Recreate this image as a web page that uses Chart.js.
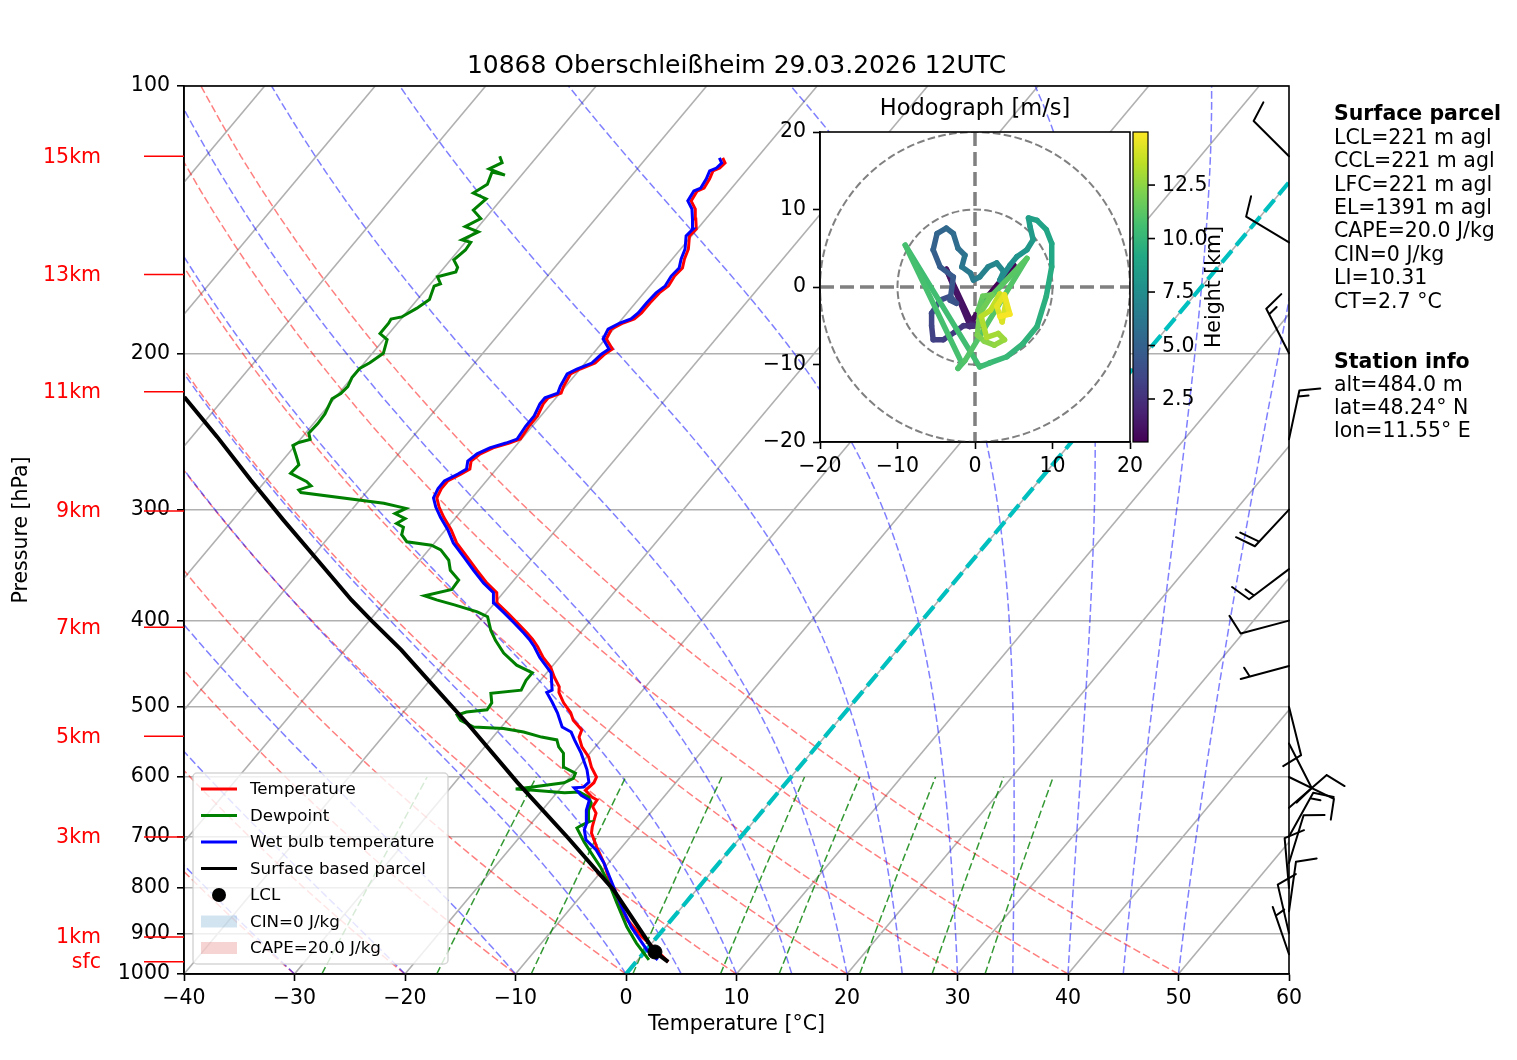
<!DOCTYPE html>
<html>
<head>
<meta charset="utf-8">
<title>Skew-T 10868</title>
<script src="https://cdn.jsdelivr.net/npm/chart.js@4.4.1/dist/chart.umd.min.js"></script>
<style>
  html, body { margin: 0; padding: 0; background: #fff; }
  #wrap { position: relative; width: 1517px; height: 1060px; }
  #skewt { position: absolute; left: 0; top: 0; }
  #hodo { position: absolute; left: 740px; top: 85px; }
</style>
</head>
<body>
<div id="wrap">
  <canvas id="skewt" width="1517" height="1060"></canvas>
  <canvas id="hodo" width="500" height="400"></canvas>
</div>
<script>
Chart.defaults.font.family = "'DejaVu Sans', sans-serif";
Chart.defaults.color = '#000';

// ---- sounding (hPa / degC) ----
const tP = [969, 935, 908, 869, 825, 798, 750, 719, 694, 683, 659, 648, 637, 632, 621, 609, 600, 585, 570, 555,
  541, 531, 518, 508, 495, 482, 475, 463, 451, 440, 428, 420, 413, 402, 392, 382, 372, 363, 351, 339,
  327, 316, 306, 298, 291, 284, 278.5, 273.5, 270, 264.4, 259.6, 255.6, 252.4, 249.8, 241.5, 235.3, 228, 224.5, 221.7, 217.7,
  211, 208.3, 205.1, 200.3, 197.8, 192.7, 187.8, 184.9, 182.9, 180.1, 175.5, 171, 167.9, 163.7, 160.3, 156.6, 152.6, 147.5, 144.9, 141.2,
  137.6, 134.7, 131.3, 130.3, 127.2, 124.6, 123.7, 122.1, 120.5];
const tT = [2.9, 0.6, -1.4, -4.0, -6.4, -7.9, -10.4, -12.3, -13.8, -14.2, -14.9, -15.7, -15.8, -16.5, -17.6, -17.4, -17.6, -18.8, -19.8, -21.2,
  -22.2, -22.5, -24.0, -24.8, -26.2, -27.4, -27.8, -29.0, -30.1, -31.5, -32.8, -33.8, -34.8, -36.5, -38.1, -39.8, -40.6, -42.2, -44.1, -46.0,
  -48.0, -49.5, -51.1, -52.3, -53.2, -53.5, -53.5, -52.8, -52.4, -52.9, -52.6, -51.9, -50.8, -50.1, -50.3, -50.3, -50.7, -50.7, -49.9, -50.2,
  -50.5, -50.0, -49.1, -48.9, -48.6, -49.9, -50.2, -49.6, -48.9, -48.7, -48.7, -48.6, -48.3, -48.5, -48.4, -48.9, -49.3, -50.2, -50.1, -50.9,
  -51.7, -52.7, -52.9, -52.5, -52.7, -53.0, -52.6, -52.5, -53.1];

const dP = [964, 923, 885, 832, 798, 758, 731, 710, 685, 680, 674, 654, 642, 632, 624, 625, 621, 619, 616, 609,
  602, 594, 585, 564, 555, 545, 541, 534, 529, 527, 518, 511, 507, 504, 495, 483, 479, 467, 458, 449,
  435, 421, 410, 396, 391, 384, 379, 375, 369, 360, 351, 342, 333, 329, 326, 320, 314, 311, 307, 303,
  299, 295, 287, 285, 282, 279, 273, 267, 261, 254, 252, 250, 246, 240, 234, 225, 222, 218, 213, 208,
  205, 200, 193, 190, 185, 183, 182, 178, 174, 168, 167, 164, 162, 160, 157, 153, 150, 149, 146, 144,
  141, 138, 134, 132, 129, 125, 126, 124, 122, 120];
const dT = [1.0, -1.4, -3.5, -6.2, -8.0, -10.4, -12.3, -13.8, -15.5, -15.3, -14.9, -15.8, -16.1, -16.8, -18.0, -19.3, -22.3, -24.0, -22.8, -20.1,
  -19.6, -19.8, -21.3, -22.4, -23.3, -24.0, -25.6, -27.6, -29.7, -32.5, -34.2, -34.9, -34.3, -32.6, -32.7, -33.5, -31.0, -31.3, -31.3, -33.3,
  -35.4, -37.1, -38.3, -39.6, -40.9, -43.5, -45.5, -46.9, -44.9, -45.0, -46.5, -47.4, -48.9, -50.1, -52.6, -53.6, -54.0, -54.9, -54.5, -55.8,
  -55.2, -57.6, -65.9, -66.3, -65.5, -66.2, -68.3, -68.2, -69.1, -70.2, -69.9, -69.1, -69.7, -69.6, -69.7, -70.2, -69.8, -69.7, -70.0, -70.0,
  -69.5, -69.0, -69.7, -70.8, -70.8, -70.9, -70.1, -69.4, -68.9, -69.5, -69.1, -69.9, -68.6, -68.8, -69.7, -69.4, -69.5, -70.5, -69.6, -71.2,
  -70.4, -71.7, -71.4, -73.0, -72.4, -72.9, -71.5, -73.4, -72.7, -73.4];

const wP = [964, 940, 885, 840, 800, 750, 725, 706, 688, 676, 654, 637, 629, 617, 616, 608, 589, 564, 545, 534,
  527, 508, 494, 482, 479, 458, 440, 428, 420, 413, 402, 392, 382, 372, 363, 351, 339, 327, 316, 306,
  298, 291, 284, 278.5, 273.5, 270, 264.4, 259.6, 255.6, 252.4, 249.8, 241.5, 235.3, 228, 224.5, 221.7, 217.7, 211, 208.3, 205.1,
  200.3, 197.8, 192.7, 187.8, 184.9, 182.9, 180.1, 175.5, 171, 167.9, 163.7, 160.3, 156.6, 152.6, 147.5, 144.9, 141.2, 137.6, 134.7, 131.3,
  130.3, 127.2, 124.6, 123.7, 122.1, 120.5];
const wT = [1.8, 0.1, -3.1, -5.5, -7.6, -10.4, -12.1, -13.8, -14.7, -15.0, -16.0, -16.5, -17.6, -18.8, -18.0, -17.9, -19.0, -20.8, -22.4, -23.3,
  -24.5, -26.0, -27.3, -28.5, -28.2, -29.6, -31.8, -33.1, -34.1, -35.1, -36.8, -38.4, -40.1, -40.9, -42.5, -44.4, -46.3, -48.3, -49.8, -51.4,
  -52.6, -53.5, -53.8, -53.8, -53.1, -52.7, -53.2, -52.9, -52.2, -51.1, -50.4, -50.6, -50.6, -51.0, -51.0, -50.2, -50.5, -50.8, -50.3, -49.4,
  -49.2, -48.9, -50.2, -50.5, -49.9, -49.2, -49.0, -49.0, -48.9, -48.6, -48.8, -48.7, -49.2, -49.6, -50.5, -50.4, -51.2, -52.0, -53.0, -53.2,
  -52.8, -53.0, -53.3, -52.9, -52.8, -53.4];

const parcelP = [969, 944.5, 804, 701, 608, 527, 466.5, 431.6, 399.4, 379.1, 341.8, 308.2, 277.8, 248.4, 224];
const parcelT = [2.9, 0.95, -7.5, -15.7, -24.4, -32.8, -40.2, -44.9, -49.9, -53.2, -59.3, -65.4, -71.4, -77.7, -83.7];
const lclP = 944.5, lclT = 0.95;
const elP = 804;

// wind barbs (hPa, deg, kt)
const windP = [120, 150, 200, 250, 300, 350, 400, 450, 500, 550, 600, 650, 700, 750, 800, 850, 900, 950];
const windDir = [315, 301, 333, 12, 223, 233, 255, 255, 166, 153, 116, 49, 29, 17, 355, 8, 347, 341];
const windSpd = [10, 10, 15, 15, 20, 15, 10, 5, 10, 10, 10, 10, 15, 10, 10, 10, 10, 5];

// hodograph (km, m/s)
const hodoH = [0.49, 0.55, 0.65, 0.8, 1.0, 1.15, 1.3, 1.5, 1.7, 1.9, 2.2, 2.5, 2.8, 3.0, 3.2, 3.4, 3.6, 3.8, 4.0, 4.15,
  4.3, 4.5, 4.7, 4.9, 5.1, 5.3, 5.5, 5.7, 5.9, 6.1, 6.3, 6.5, 6.7, 6.9, 7.1, 7.3, 7.45, 7.6, 7.8, 8.0,
  8.2, 8.4, 8.55, 8.7, 8.9, 9.1, 9.3, 9.5, 9.7, 9.9, 10.1, 10.3, 10.45, 10.6, 10.75, 10.85, 10.95, 11.1, 11.3, 11.5,
  11.7, 11.9, 12.1, 12.3, 12.5, 12.7, 12.9, 13.1, 13.3, 13.5, 13.7, 13.9, 14.1, 14.3, 14.5, 14.7, 14.98];
const hodoU = [0.8, 5.0, 0.6, 0.9, -0.5, -3.7, -0.8, 1.1, -0.5, -0.7, 0.4, -1.5, -2.6, -4.1, -5.4, -5.6, -5.6, -4.5, -3.2, -2.4,
  -3.2, -2.8, -4.5, -5.4, -4.9, -3.7, -2.8, -2.2, -1.3, -1.7, -0.6, -0.2, 0.6, 1.7, 2.8, 3.7, 3.2, 4.5, 5.4, 6.7,
  7.5, 7.1, 6.9, 8.0, 9.2, 9.9, 9.9, 9.2, 8.0, 6.2, 4.1, 1.9, 0.6, -9.0, -1.7, -2.2, -1.3, 6.7, 0.4, 1.0,
  2.2, 0.6, 0.3, 1.2, 2.5, 3.8, 3.0, 1.5, 0.8, 2.0, 3.2, 4.0, 3.5, 2.8, 3.8, 4.5, 3.2];
const hodoV = [-2.2, 2.8, -3.0, -2.5, -4.5, 2.3, -4.6, -5.0, -4.8, -5.1, -5.0, -5.0, -5.8, -6.8, -6.8, -5.0, -3.4, -1.7, -1.2, -2.1,
  -1.7, 1.3, 2.6, 4.8, 6.9, 7.6, 6.9, 5.0, 4.1, 2.6, 1.8, 0.9, 1.3, 2.6, 3.1, 2.0, 0.9, 2.8, 3.9, 4.8,
  6.1, 7.8, 8.9, 8.6, 7.4, 5.6, 2.6, -1.2, -5.1, -7.3, -9.0, -9.8, -10.3, 5.4, -9.8, -10.5, -9.5, 3.7, -3.0, -1.2,
  -1.0, -3.5, -6.2, -7.0, -7.5, -6.8, -6.0, -6.5, -3.8, -3.0, -0.9, -2.0, -4.5, -2.5, -1.0, -3.5, -3.8];

// axes and reference lines
const pTicks = [100, 200, 300, 400, 500, 600, 700, 800, 900, 1000];
const kmLabels = ['15km', '13km', '11km', '9km', '7km', '5km', '3km', '1km', 'sfc'];
const kmP = [120, 163, 221, 301, 407, 540, 701, 908.5, 969];
const isoT = [-100, -90, -80, -70, -60, -50, -40, -30, -20, -10, 0, 10, 20, 30, 40, 50, 60];
const dryT0 = [-40, -30, -20, -10, 0, 10, 20, 30, 40, 50];
const moistT0 = [-40, -30, -20, -10, 0, 5, 10, 15, 20, 25, 30, 35, 40, 45, 50];
const mixW = [0.4, 1, 2, 4, 7, 10, 16, 24, 32];
const hodoRings = [10, 20];
const cbTicks = [2.5, 5, 7.5, 10, 12.5];

const chartTitle = '10868 Oberschleißheim 29.03.2026 12UTC';
const parcelInfo = ['LCL=221 m agl', 'CCL=221 m agl', 'LFC=221 m agl', 'EL=1391 m agl', 'CAPE=20.0 J/kg', 'CIN=0 J/kg', 'LI=10.31', 'CT=2.7 °C'];
const stationInfo = ['alt=484.0 m', 'lat=48.24° N', 'lon=11.55° E'];

// ---- skew-T helpers ----
const SKEW = 67.3;
const sx = (t, p) => t + SKEW * Math.log10(1000 / p);
const prof = (P, T) => P.slice(0, T.length).map((p, i) => ({ x: sx(T[i], p), y: p }));
const minus = v => (v < 0 ? '\u2212' + Math.abs(v) : String(v));

const levels = [];
for (let p = 1000; p >= 100; p -= 10) levels.push(p);

function dryLine(t0) {
  const th = t0 + 273.15;
  return levels.map(p => ({ x: sx(th * Math.pow(p / 1000, 0.2857) - 273.15, p), y: p }));
}

function moistLine(t0) {
  const Rd = 287.04749, Cp = 1004.6662, Lv = 2.50084e6, eps = 0.6219569;
  const f = (p, T) => {
    const es = 6.112 * Math.exp(17.67 * (T - 273.15) / (T - 29.65));
    const rs = eps * es / (p - es);
    return (Rd * T + Lv * rs) / (Cp + Lv * Lv * rs * eps / (Rd * T * T)) / p;
  };
  let T = t0 + 273.15;
  const out = [{ x: sx(t0, 1000), y: 1000 }];
  const h = -5;
  for (let p = 1000; p > 100; p += h) {
    const k1 = f(p, T), k2 = f(p + h / 2, T + h / 2 * k1), k3 = f(p + h / 2, T + h / 2 * k2), k4 = f(p + h, T + h * k3);
    T += h / 6 * (k1 + 2 * k2 + 2 * k3 + k4);
    out.push({ x: sx(T - 273.15, p + h), y: p + h });
  }
  return out;
}

function mixLine(w) {
  const r = w / 1000, out = [];
  for (let p = 1000; p >= 600; p -= 20) {
    const e = p * r / (0.6219569 + r);
    const l = Math.log(e / 6.112);
    out.push({ x: sx(243.5 * l / (17.67 - l), p), y: p });
  }
  return out;
}

const bgLine = (data, color, width, dash, order) => ({
  data, showLine: true, borderColor: color, borderWidth: width, borderDash: dash,
  pointRadius: 0, pointHoverRadius: 0, fill: false, order
});

const datasets = [];
datasets.push({ data: [{ x: sx(lclT, lclP), y: lclP }], pointRadius: 7, backgroundColor: '#000', borderColor: '#000', order: 0 });
datasets.push(bgLine(prof(parcelP, parcelT), '#000', 4, [], 1));
datasets.push(bgLine(prof(wP, wT), '#0000ff', 3, [], 2));
datasets.push(bgLine(prof(dP, dT), '#008000', 3, [], 3));
datasets.push(bgLine(prof(tP, tT), '#ff0000', 3, [], 4));
datasets.push(bgLine([{ x: 0, y: 1000 }, { x: SKEW, y: 100 }], '#00bfbf', 4.2, [15.4, 6.7], 20));
mixW.forEach(w => datasets.push(bgLine(mixLine(w), 'rgba(0,128,0,0.8)', 1.5, [7.7, 3.3], 30)));
moistT0.forEach(t => datasets.push(bgLine(moistLine(t), 'rgba(0,0,255,0.5)', 1.5, [7.7, 3.3], 31)));
dryT0.forEach(t => datasets.push(bgLine(dryLine(t), 'rgba(255,0,0,0.5)', 1.5, [7.7, 3.3], 32)));
isoT.forEach(t => datasets.push(bgLine([{ x: t, y: 1000 }, { x: t + SKEW, y: 100 }], '#b0b0b0', 1.6, [], 40)));

// legend rows: [label, kind, colour]
const legendRows = [
  ['Temperature', 'line', '#ff0000'],
  ['Dewpoint', 'line', '#008000'],
  ['Wet bulb temperature', 'line', '#0000ff'],
  ['Surface based parcel', 'line', '#000'],
  ['LCL', 'dot', '#000'],
  ['CIN=0 J/kg', 'patch', 'rgba(31,119,180,0.2)'],
  ['CAPE=20.0 J/kg', 'patch', 'rgba(214,39,40,0.2)']
];

function drawBarb(ctx, x0, y0, dir, spd) {
  const L = 50, sp = 0.125 * L, fh = 0.4 * L, fw = 0.25 * L;
  const r = dir * Math.PI / 180;
  const ux = Math.sin(r), uy = -Math.cos(r);
  const px = -uy, py = ux;
  let n = Math.round(spd / 5) * 5;
  const full = Math.floor(n / 10);
  const half = n - full * 10 >= 5;
  ctx.beginPath();
  ctx.moveTo(x0, y0);
  ctx.lineTo(x0 + L * ux, y0 + L * uy);
  let off = L;
  for (let i = 0; i < full; i++) {
    const bx = x0 + off * ux, by = y0 + off * uy;
    ctx.moveTo(bx, by);
    ctx.lineTo(bx + fh * px + fw / 2 * ux, by + fh * py + fw / 2 * uy);
    off -= sp;
  }
  if (half) {
    if (off === L) off -= 1.5 * sp;
    const bx = x0 + off * ux, by = y0 + off * uy;
    ctx.moveTo(bx, by);
    ctx.lineTo(bx + fh / 2 * px + fw / 4 * ux, by + fh / 2 * py + fw / 4 * uy);
  }
  ctx.stroke();
}

const skewDeco = {
  id: 'skewDeco',
  beforeDatasetsDraw(chart) {
    const { ctx, chartArea: a, scales: { x, y } } = chart;
    // CAPE sliver: parcel up to EL, back down along the environment
    const pts = [];
    parcelP.forEach((p, i) => { if (p <= lclP && p >= elP) pts.push([parcelT[i], p]); });
    const env = [];
    tP.forEach((p, i) => { if (p < lclP && p > elP) env.push([tT[i], p]); });
    env.reverse().forEach(q => pts.push(q));
    ctx.save();
    ctx.beginPath();
    ctx.rect(a.left, a.top, a.right - a.left, a.bottom - a.top);
    ctx.clip();
    ctx.beginPath();
    pts.forEach(([t, p], i) => {
      const X = x.getPixelForValue(sx(t, p)), Y = y.getPixelForValue(p);
      if (i === 0) ctx.moveTo(X, Y); else ctx.lineTo(X, Y);
    });
    ctx.closePath();
    ctx.fillStyle = 'rgba(214,39,40,0.2)';
    ctx.fill();
    ctx.restore();
  },
  afterDatasetsDraw(chart) {
    const { ctx, chartArea: a } = chart;
    ctx.save();
    ctx.strokeStyle = '#000';
    ctx.lineWidth = 1.6;
    ctx.strokeRect(a.left, a.top, a.right - a.left, a.bottom - a.top);

    // legend box
    const bx = a.left + 9, bw = 255, bh = 191, by = a.bottom - 10 - bh;
    ctx.beginPath();
    ctx.roundRect(bx, by, bw, bh, 4);
    ctx.fillStyle = 'rgba(255,255,255,0.8)';
    ctx.fill();
    ctx.strokeStyle = 'rgba(204,204,204,0.8)';
    ctx.lineWidth = 1.5;
    ctx.stroke();
    ctx.font = '16.7px "DejaVu Sans"';
    ctx.textBaseline = 'middle';
    ctx.textAlign = 'left';
    legendRows.forEach(([label, kind, color], i) => {
      const yy = by + 16 + i * 26.5;
      if (kind === 'line') {
        ctx.strokeStyle = color; ctx.lineWidth = 3;
        ctx.beginPath(); ctx.moveTo(bx + 8, yy); ctx.lineTo(bx + 44, yy); ctx.stroke();
      } else if (kind === 'dot') {
        ctx.fillStyle = color;
        ctx.beginPath(); ctx.arc(bx + 26, yy, 7, 0, Math.PI * 2); ctx.fill();
      } else {
        ctx.fillStyle = color;
        ctx.fillRect(bx + 8, yy - 6, 36, 12);
      }
      ctx.fillStyle = '#000';
      ctx.fillText(label, bx + 57, yy + 1);
    });
    ctx.restore();
  },
  afterDraw(chart) {
    const { ctx, chartArea: a, scales: { y } } = chart;
    ctx.save();
    ctx.fillStyle = '#000';
    ctx.textAlign = 'center';
    ctx.textBaseline = 'middle';
    ctx.font = '25px "DejaVu Sans"';
    ctx.fillText(chartTitle, (a.left + a.right) / 2, a.top - 20);

    // height labels on the left
    ctx.font = '20.5px "DejaVu Sans"';
    ctx.textAlign = 'right';
    ctx.fillStyle = '#ff0000';
    ctx.strokeStyle = '#ff0000';
    ctx.lineWidth = 1.5;
    kmLabels.forEach((lab, i) => {
      const yy = y.getPixelForValue(kmP[i]);
      ctx.beginPath(); ctx.moveTo(a.left - 40, yy); ctx.lineTo(a.left, yy); ctx.stroke();
      ctx.fillText(lab, a.left - 83, yy + 1);
    });

    // wind barbs on the right spine
    ctx.strokeStyle = '#000';
    ctx.lineWidth = 2;
    ctx.lineCap = 'round';
    windP.forEach((p, i) => drawBarb(ctx, a.right, y.getPixelForValue(p), windDir[i], windSpd[i]));

    // info text
    ctx.fillStyle = '#000';
    ctx.textAlign = 'left';
    const tx = a.right + 45;
    let ty = a.top + 29;
    ctx.font = 'bold 20.5px "DejaVu Sans"';
    ctx.fillText('Surface parcel', tx, ty);
    ctx.font = '20.5px "DejaVu Sans"';
    parcelInfo.forEach(s => { ty += 23.4; ctx.fillText(s, tx, ty); });
    ty += 60;
    ctx.font = 'bold 20.5px "DejaVu Sans"';
    ctx.fillText('Station info', tx, ty);
    ctx.font = '20.5px "DejaVu Sans"';
    stationInfo.forEach(s => { ty += 23.2; ctx.fillText(s, tx, ty); });
    ctx.restore();
  }
};

new Chart(document.getElementById('skewt'), {
  type: 'scatter',
  data: { datasets },
  options: {
    responsive: false,
    animation: false,
    devicePixelRatio: 1,
    events: [],
    layout: { padding: { left: 0, right: 228, top: 86, bottom: 20 } },
    plugins: { legend: { display: false }, tooltip: { enabled: false } },
    scales: {
      x: {
        type: 'linear', min: -40, max: 60,
        ticks: { stepSize: 10, padding: 5, maxRotation: 0, font: { size: 20.5 }, callback: v => minus(v) },
        grid: { drawOnChartArea: false, tickLength: 7, tickColor: '#000', tickWidth: 1.6 },
        border: { color: '#000', width: 1.6 },
        title: { display: true, text: 'Temperature [°C]', font: { size: 20.5 }, padding: { top: 0, bottom: 3 } },
        afterFit: s => { s.height = 66; }
      },
      y: {
        type: 'logarithmic', reverse: true, min: 100, max: 1000,
        afterBuildTicks: s => { s.ticks = pTicks.map(v => ({ value: v })); },
        ticks: { padding: 7, autoSkip: false, font: { size: 20.5 }, callback: v => String(v) },
        grid: { color: '#b0b0b0', lineWidth: 1.6, tickLength: 7, tickColor: '#000', tickWidth: 1.6 },
        border: { color: '#000', width: 1.6 },
        title: { display: true, text: 'Pressure [hPa]', font: { size: 20.5 }, padding: { top: 9, bottom: 0 } },
        afterFit: s => { s.width = 184; }
      }
    }
  },
  plugins: [skewDeco]
});

// ---- hodograph inset ----
const VIR = ['#440154', '#482475', '#414487', '#355f8d', '#2a788e', '#21918c', '#22a884', '#44bf70', '#7ad151', '#bddf26', '#fde725'];
const hexRgb = h => [1, 3, 5].map(k => parseInt(h.substr(k, 2), 16));
function viridis(t) {
  t = Math.max(0, Math.min(1, t));
  const f = t * 10, i = Math.min(9, Math.floor(f)), u = f - i;
  const c0 = hexRgb(VIR[i]), c1 = hexRgb(VIR[i + 1]);
  const c = c0.map((v, k) => Math.round(v + (c1[k] - v) * u));
  return `rgb(${c[0]},${c[1]},${c[2]})`;
}
const hMin = Math.min(...hodoH), hMax = Math.max(...hodoH);
const hNorm = h => (h - hMin) / (hMax - hMin);

const hodoDeco = {
  id: 'hodoDeco',
  beforeDraw(chart) {
    const { ctx, chartArea: a } = chart;
    ctx.save();
    ctx.fillStyle = '#fff';
    ctx.fillRect(a.left, a.top, a.right - a.left, a.bottom - a.top);
    ctx.restore();
  },
  beforeDatasetsDraw(chart) {
    const { ctx, chartArea: a, scales: { x, y } } = chart;
    const cx = x.getPixelForValue(0), cy = y.getPixelForValue(0);
    ctx.save();
    ctx.beginPath();
    ctx.rect(a.left, a.top, a.right - a.left, a.bottom - a.top);
    ctx.clip();
    ctx.strokeStyle = '#808080';
    ctx.lineWidth = 2;
    ctx.setLineDash([7.7, 3.3]);
    hodoRings.forEach(r => {
      ctx.beginPath();
      ctx.arc(cx, cy, x.getPixelForValue(r) - cx, 0, Math.PI * 2);
      ctx.stroke();
    });
    ctx.lineWidth = 3.5;
    ctx.setLineDash([14, 6]);
    ctx.beginPath();
    ctx.moveTo(a.left, cy); ctx.lineTo(a.right, cy);
    ctx.moveTo(cx, a.top); ctx.lineTo(cx, a.bottom);
    ctx.stroke();
    ctx.restore();
  },
  afterDraw(chart) {
    const { ctx, chartArea: a } = chart;
    ctx.save();
    ctx.strokeStyle = '#000';
    ctx.lineWidth = 1.6;
    ctx.strokeRect(a.left, a.top, a.right - a.left, a.bottom - a.top);
    ctx.fillStyle = '#000';
    ctx.textAlign = 'center';
    ctx.textBaseline = 'middle';
    ctx.font = '22.5px "DejaVu Sans"';
    ctx.fillText('Hodograph [m/s]', (a.left + a.right) / 2, a.top - 23);

    // colour bar
    const cbL = a.right + 3, cbW = 15, cbT = a.top, cbB = a.bottom;
    const g = ctx.createLinearGradient(0, cbB, 0, cbT);
    VIR.forEach((c, k) => g.addColorStop(k / 10, c));
    ctx.fillStyle = g;
    ctx.fillRect(cbL, cbT, cbW, cbB - cbT);
    ctx.lineWidth = 1.2;
    ctx.strokeRect(cbL, cbT, cbW, cbB - cbT);
    ctx.fillStyle = '#000';
    ctx.textAlign = 'left';
    ctx.font = '20.5px "DejaVu Sans"';
    ctx.lineWidth = 1.6;
    cbTicks.forEach(v => {
      const yy = cbB - hNorm(v) * (cbB - cbT);
      ctx.beginPath(); ctx.moveTo(cbL + cbW, yy); ctx.lineTo(cbL + cbW + 7, yy); ctx.stroke();
      ctx.fillText(v.toFixed(1), cbL + cbW + 14, yy + 1);
    });
    ctx.translate(cbL + 82, (cbT + cbB) / 2);
    ctx.rotate(-Math.PI / 2);
    ctx.textAlign = 'center';
    ctx.fillText('Height [km]', 0, 0);
    ctx.restore();
  }
};

new Chart(document.getElementById('hodo'), {
  type: 'scatter',
  data: {
    datasets: [{
      data: hodoU.map((u, i) => ({ x: u, y: hodoV[i] })),
      showLine: true,
      pointRadius: 0,
      pointHoverRadius: 0,
      borderWidth: 5.5,
      borderJoinStyle: 'round',
      borderCapStyle: 'round',
      borderColor: viridis(0),
      segment: { borderColor: c => viridis(hNorm((hodoH[c.p0DataIndex] + hodoH[c.p1DataIndex]) / 2)) }
    }]
  },
  options: {
    responsive: false,
    animation: false,
    devicePixelRatio: 1,
    events: [],
    layout: { padding: { left: 0, right: 110, top: 47, bottom: 7 } },
    plugins: { legend: { display: false }, tooltip: { enabled: false } },
    scales: {
      x: {
        type: 'linear', min: -20, max: 20,
        ticks: { stepSize: 10, padding: 5, maxRotation: 0, font: { size: 20.5 }, callback: v => minus(v) },
        grid: { drawOnChartArea: false, tickLength: 7, tickColor: '#000', tickWidth: 1.6 },
        border: { color: '#000', width: 1.6 },
        afterFit: s => { s.height = 36; }
      },
      y: {
        type: 'linear', min: -20, max: 20,
        ticks: { stepSize: 10, padding: 7, font: { size: 20.5 }, callback: v => minus(v) },
        grid: { drawOnChartArea: false, tickLength: 7, tickColor: '#000', tickWidth: 1.6 },
        border: { color: '#000', width: 1.6 },
        afterFit: s => { s.width = 80; }
      }
    }
  },
  plugins: [hodoDeco]
});
</script>
</body>
</html>
